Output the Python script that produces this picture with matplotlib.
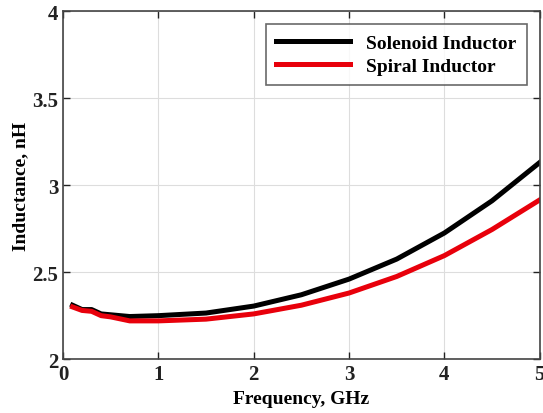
import numpy as np
import matplotlib.pyplot as plt

plt.rcParams['font.family'] = ['Liberation Serif', 'DejaVu Serif']
plt.rcParams['font.weight'] = 'bold'

freq = [0.1, 0.2, 0.3, 0.4, 0.5, 0.7, 1.0, 1.5, 2.0, 2.5, 3.0, 3.5, 4.0, 4.5, 5.0]
solenoid = [2.31, 2.285, 2.285, 2.26, 2.255, 2.245, 2.25, 2.265, 2.305, 2.37, 2.46, 2.575, 2.725, 2.91, 3.13]
spiral = [2.30, 2.28, 2.275, 2.25, 2.243, 2.22, 2.22, 2.23, 2.26, 2.31, 2.38, 2.475, 2.595, 2.745, 2.915]

fig = plt.figure(figsize=(5.43, 4.14), dpi=100)
ax = fig.add_axes([0.116, 0.130, 0.878, 0.841])

ax.plot(freq, solenoid, color='black', lw=3.6, label='Solenoid Inductor')
ax.plot(freq, spiral, color='#e8000b', lw=3.6, label='Spiral Inductor')

ax.set_xlim(0, 5)
ax.set_ylim(2, 4)
ax.set_xticks([0, 1, 2, 3, 4, 5])
ax.set_yticks([2, 2.5, 3, 3.5, 4])
ax.set_yticklabels(['2', '2.5', '3', '3.5', '4'])
ax.grid(True, color='#dddddd', lw=0.8)
ax.tick_params(direction='in', top=True, right=True, labelsize=15, width=1, length=5, colors='#222222')
for s in ax.spines.values():
    s.set_color('#444444')
    s.set_linewidth(1.2)

ax.set_xlabel('Frequency, GHz', fontsize=14, fontweight='bold', labelpad=4)
ax.set_ylabel('Inductance, nH', fontsize=14, fontweight='bold', labelpad=2)

leg = ax.legend(loc='upper right', fontsize=14, frameon=True, fancybox=False,
                edgecolor='#444444', handlelength=3.8, borderpad=0.55,
                labelspacing=0.25, borderaxespad=0,
                bbox_to_anchor=(0.973, 0.963))
leg.get_frame().set_linewidth(1.2)

fig.savefig('out.png', dpi=100)
